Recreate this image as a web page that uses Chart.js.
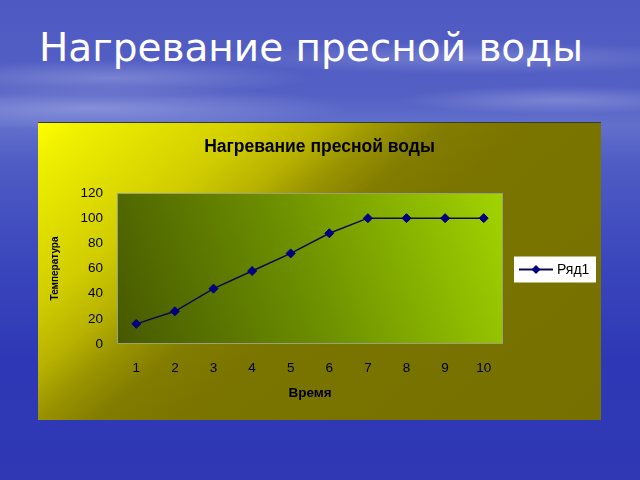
<!DOCTYPE html>
<html>
<head>
<meta charset="utf-8">
<script src="https://cdn.jsdelivr.net/npm/chart.js@4/dist/chart.umd.min.js"></script>
<style>
  html, body { margin: 0; padding: 0; }
  body {
    width: 640px; height: 480px; overflow: hidden; position: relative;
    background:
      radial-gradient(ellipse 200px 18px at 110px 78px, rgba(210,215,245,0.3), rgba(210,215,245,0) 100%),
      radial-gradient(ellipse 260px 16px at 470px 58px, rgba(210,215,245,0.25), rgba(210,215,245,0) 100%),
      radial-gradient(ellipse 260px 22px at 90px 108px, rgba(215,220,250,0.35), rgba(215,220,250,0) 100%),
      radial-gradient(ellipse 160px 14px at 560px 100px, rgba(210,215,245,0.3), rgba(210,215,245,0) 100%),
      linear-gradient(to bottom, #4e5ac2 0%, #5460c4 20%, #6270cc 26%, #4f5cc4 34%, #3a46bc 55%, #2e38b6 75%, #3038b4 100%);
    font-family: "DejaVu Sans", sans-serif;
  }
  #heading {
    position: absolute; left: 39px; top: 25px;
    color: #ffffff; font-size: 39px; line-height: 46px; white-space: nowrap;
  }
  #box {
    position: absolute; left: 38px; top: 122px; width: 563px; height: 298px;
    border-top: 1px solid #3a3a30; box-sizing: border-box;
    background: linear-gradient(140deg, #ffff00 0%, #f0f000 5%, #d0cc00 24%, #b8b200 32%, #9a9400 38%, #827c00 45%, #7a7400 55%, #767000 100%);
  }
  #chart { position: absolute; left: 0; top: 0; }
</style>
</head>
<body>
<div id="heading">Нагревание пресной воды</div>
<div id="box"><canvas id="chart" width="563" height="297"></canvas></div>
<script>
// данные графика
const chartTitle = 'Нагревание пресной воды';
const xTitle = 'Время';
const yTitle = 'Температура';
const seriesName = 'Ряд1';
const categories = ['1', '2', '3', '4', '5', '6', '7', '8', '9', '10'];
const temps = [16, 26, 44, 58, 72, 88, 100, 100, 100, 100];
const yTicks = [0, 20, 40, 60, 80, 100, 120];

const lineColor = '#0a0a50';
const markerColor = '#000080';
const font = '"Liberation Sans", Arial, sans-serif';

// фон области построения + рамка
const plotBg = {
  id: 'plotBg',
  beforeDatasetsDraw(chart) {
    const { ctx, chartArea: a } = chart;
    const g = ctx.createLinearGradient(a.left, a.bottom, a.right, a.top);
    g.addColorStop(0, '#465800');
    g.addColorStop(0.45, '#6a8c00');
    g.addColorStop(1, '#a2d400');
    ctx.save();
    ctx.fillStyle = g;
    ctx.fillRect(a.left, a.top, a.right - a.left, a.bottom - a.top);
    ctx.strokeStyle = '#9aa080';
    ctx.lineWidth = 1;
    ctx.strokeRect(a.left + 0.5, a.top + 0.5, a.right - a.left - 1, a.bottom - a.top - 1);
    ctx.restore();
  }
};

// легенда справа (белая рамка, линия с ромбом)
const sideLegend = {
  id: 'sideLegend',
  afterDraw(chart) {
    const { ctx, chartArea: a } = chart;
    const ds = chart.data.datasets[0];
    const x = a.right + 11, w = 82, h = 26;
    const y = (a.top + a.bottom) / 2 - 12;
    ctx.save();
    ctx.fillStyle = '#ffffff';
    ctx.fillRect(x, y, w, h);
    const cy = y + h / 2;
    ctx.strokeStyle = ds.borderColor;
    ctx.lineWidth = 2;
    ctx.beginPath();
    ctx.moveTo(x + 5, cy);
    ctx.lineTo(x + 39, cy);
    ctx.stroke();
    ctx.fillStyle = ds.pointBackgroundColor;
    ctx.beginPath();
    ctx.moveTo(x + 22, cy - 4.5);
    ctx.lineTo(x + 26.5, cy);
    ctx.lineTo(x + 22, cy + 4.5);
    ctx.lineTo(x + 17.5, cy);
    ctx.closePath();
    ctx.fill();
    ctx.fillStyle = '#000000';
    ctx.font = '14px ' + font;
    ctx.textBaseline = 'middle';
    ctx.fillText(ds.label, x + 43, cy + 1);
    ctx.restore();
  }
};

new Chart(document.getElementById('chart'), {
  type: 'line',
  data: {
    labels: categories,
    datasets: [{
      label: seriesName,
      data: temps,
      yAxisID: 'y',
      borderColor: lineColor,
      borderWidth: 1.5,
      tension: 0,
      pointStyle: 'rectRot',
      pointRadius: 4.5,
      pointBackgroundColor: markerColor,
      pointBorderColor: markerColor,
      pointBorderWidth: 1
    }]
  },
  options: {
    responsive: false,
    animation: false,
    layout: { padding: 0 },
    plugins: {
      legend: { display: false },
      tooltip: { enabled: false },
      title: {
        display: true,
        text: chartTitle,
        color: '#000000',
        font: { family: font, size: 17.5, weight: 'bold' },
        padding: { top: 14, bottom: 35 }
      }
    },
    scales: {
      x: {
        offset: true,
        grid: { display: false, drawTicks: false },
        border: { display: false },
        ticks: {
          color: '#000000',
          padding: 16,
          font: { family: font, size: 13.5 }
        },
        title: {
          display: true,
          text: xTitle,
          color: '#000000',
          font: { family: font, size: 13.5, weight: 'bold' },
          padding: { top: 19, bottom: 19 }
        },
        afterFit(scale) { scale.height = 76; }
      },
      y: {
        min: 0,
        max: 120,
        grid: { display: false, drawTicks: false },
        border: { display: false },
        afterBuildTicks(scale) { scale.ticks = yTicks.map(v => ({ value: v })); },
        ticks: {
          color: '#000000',
          padding: 14,
          font: { family: font, size: 13.5 }
        },
        title: {
          display: true,
          text: yTitle,
          color: '#000000',
          font: { family: font, size: 10, weight: 'bold' },
          padding: { top: 11, bottom: 11 }
        },
        afterFit(scale) { scale.width = 79; }
      },
      // пустая ось справа — место под легенду
      yLegendSpace: {
        position: 'right',
        min: 0,
        max: 120,
        grid: { display: false, drawTicks: false },
        border: { display: false },
        ticks: { display: false },
        afterFit(scale) { scale.width = 98; }
      }
    }
  },
  plugins: [plotBg, sideLegend]
});
</script>
</body>
</html>
